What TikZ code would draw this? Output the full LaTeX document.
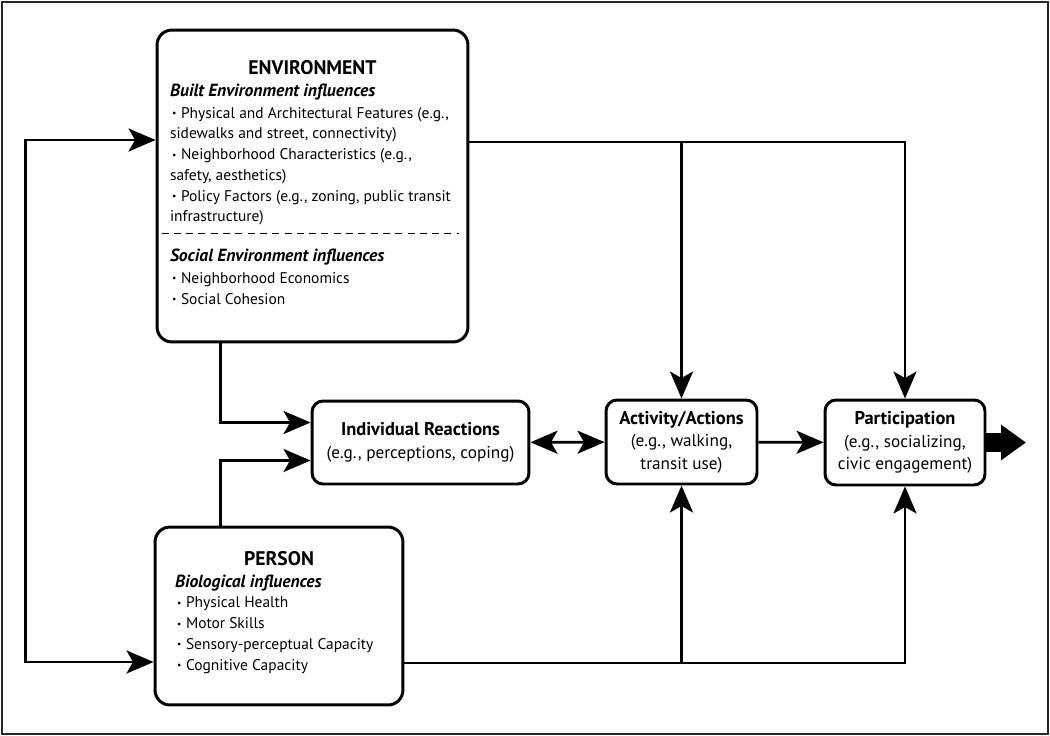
\documentclass[tikz,border=0pt]{standalone}
\usepackage{fontspec}
\setmainfont{PT Sans}
\usetikzlibrary{arrows.meta}

% one bulleted influence, continuation lines hang under the text
\newcommand{\influence}[1]{\par\hangindent=0.22cm\hangafter=1\noindent\makebox[0.22cm][l]{\hspace{0.04cm}\raisebox{0.9pt}{\fontsize{5.5}{5.5}\selectfont\textbullet}}#1\par}

\begin{document}
\begin{tikzpicture}[
  x=0.02cm, y=-0.02cm,
  font=\fontsize{8.8}{11.6}\selectfont,
  outerBox/.style={draw,line width=1.7pt,rounded corners=0.3cm,inner ysep=0pt},
  outcomeBox/.style={draw,line width=1.7pt,rounded corners=0.22cm,align=center,inner sep=0pt,font=\fontsize{9.8}{12.8}\selectfont},
  boxToBox/.style={-{Stealth[length=0.54cm,width=0.46cm,inset=0.13cm]},line width=1.6pt},
  bothWays/.style={{Stealth[length=0.54cm,width=0.46cm,inset=0.13cm]}-{Stealth[length=0.54cm,width=0.46cm,inset=0.13cm]},line width=1.6pt},
  fatArrow/.style={-{Triangle[length=0.5cm,width=0.68cm]},line width=0.38cm},
  frameLine/.style={line width=0.04cm,black!85}]

  \useasboundingbox (0,0) rectangle (1050,736);
  \draw [frameLine] (2,2) rectangle (1048,734);

  % environment and person
  \node[outerBox,inner xsep=0.26cm] (env) at (312.5,186) {\parbox[c][6.24cm][t]{5.7cm}{\raggedright\setlength{\parskip}{0.5pt}
    \vspace*{0.6cm}
    {\centering\fontsize{11.2}{12}\selectfont\bfseries ENVIRONMENT\par}
    {\fontsize{10}{12}\selectfont\bfseries\itshape Built Environment influences\par}
    \influence{Physical and Architectural Features (e.g.,\\sidewalks and street, connectivity)}
    \influence{Neighborhood Characteristics (e.g.,\\safety, aesthetics)}
    \influence{Policy Factors (e.g., zoning, public transit\\infrastructure)}
    \vspace{0.36cm}
    {\fontsize{10}{12}\selectfont\bfseries\itshape Social Environment influences\par}
    \influence{Neighborhood Economics}
    \influence{Social Cohesion}}};
  \draw [dashed,line width=0.8pt,dash pattern=on 4pt off 3pt] ([xshift=0.12cm,yshift=-4.1cm]env.north west) -- ([xshift=-0.2cm,yshift=-4.1cm]env.north east);

  \node[outerBox,inner xsep=0.4cm] (person) at (279,616) {\parbox[c][3.56cm][t]{4.16cm}{\raggedright\fontsize{8.8}{11.8}\selectfont
    \vspace*{0.48cm}
    {\centering\fontsize{11.2}{12}\selectfont\bfseries PERSON\par}
    {\fontsize{10}{12.6}\selectfont\bfseries\itshape Biological influences\par}
    \influence{Physical Health}
    \influence{Motor Skills}
    \influence{Sensory-perceptual Capacity}
    \influence{Cognitive Capacity}}};

  % reactions, actions and participation
  \node[outcomeBox,minimum width=4.34cm,minimum height=1.66cm] (react) at (420.5,442.5) {{\bfseries\fontsize{10.5}{12.8}\selectfont Individual Reactions}\\(e.g., perceptions, coping)};
  \node[outcomeBox,minimum width=3.02cm,minimum height=1.68cm] (act) at (681.5,442) {{\bfseries\fontsize{10.5}{12.8}\selectfont Activity/Actions}\\(e.g., walking,\\transit use)};
  \node[outcomeBox,minimum width=3.2cm,minimum height=1.7cm] (part) at (905,442.5) {{\bfseries\fontsize{10.5}{12.8}\selectfont Participation}\\(e.g., socializing,\\civic engagement)};
  \coordinate (exitEnd) at (1026,442.5);

  % left loop between environment and person
  \draw [bothWays] ([yshift=0.92cm]env.west) -- ++(-2.6cm,0) |- ([yshift=-0.92cm]person.west);

  % environment and person to reactions
  \draw [boxToBox] ([xshift=1.3cm]env.south west) |- ([yshift=0.4cm]react.west);
  \draw [boxToBox] ([xshift=1.34cm]person.north west) |- ([yshift=-0.36cm]react.west);

  % environment to actions and participation
  \draw [boxToBox] ([yshift=0.88cm]env.east) -| (part.north);
  \draw [boxToBox] ([yshift=0.88cm]env.east -| act.north) -- (act.north);

  % person to actions and participation
  \draw [boxToBox] ([yshift=-0.94cm]person.east) -| (part.south);
  \draw [boxToBox] ([yshift=-0.94cm]person.east -| act.south) -- (act.south);

  % along the chain
  \draw [bothWays] (react) -- (act);
  \draw [boxToBox] (act) -- (part);
  \draw [fatArrow] (part.east) -- (exitEnd);

\end{tikzpicture}
\end{document}
